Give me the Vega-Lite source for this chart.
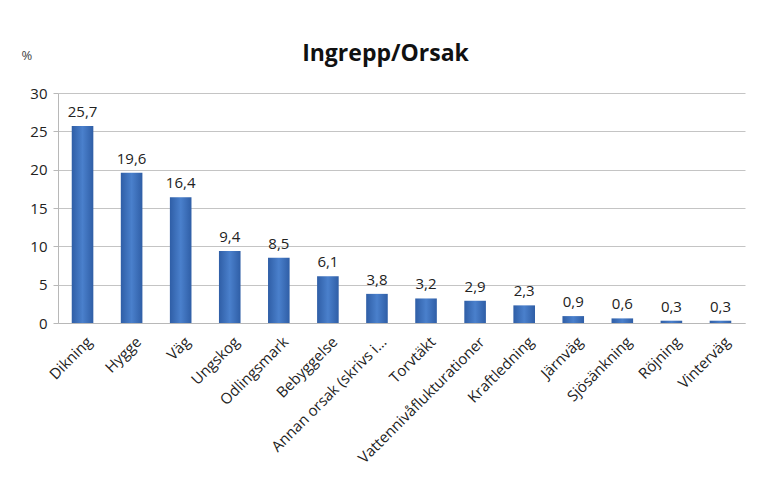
{
  "$schema": "https://vega.github.io/schema/vega-lite/v6.json",
  "width": 687,
  "height": 230,
  "autosize": {"type": "none"},
  "padding": {"left": 58, "top": 93, "right": 13, "bottom": 180},
  "background": "white",
  "title": {
    "text": "Ingrepp/Orsak",
    "fontSize": 23,
    "fontWeight": "bold",
    "font": "Open Sans",
    "color": "#111111",
    "anchor": "middle",
    "dx": -16,
    "offset": -17
  },
  "config": {
    "locale": {"number": {"decimal": ",", "thousands": " ", "grouping": [3], "currency": ["", " kr"]}},
    "view": {"stroke": null},
    "font": "Open Sans"
  },
  "data": {
    "values": [
      {"orsak": "Dikning", "procent": 25.7},
      {"orsak": "Hygge", "procent": 19.6},
      {"orsak": "Väg", "procent": 16.4},
      {"orsak": "Ungskog", "procent": 9.4},
      {"orsak": "Odlingsmark", "procent": 8.5},
      {"orsak": "Bebyggelse", "procent": 6.1},
      {"orsak": "Annan orsak (skrivs i…", "procent": 3.8},
      {"orsak": "Torvtäkt", "procent": 3.2},
      {"orsak": "Vattennivåflukturationer", "procent": 2.9},
      {"orsak": "Kraftledning", "procent": 2.3},
      {"orsak": "Järnväg", "procent": 0.9},
      {"orsak": "Sjösänkning", "procent": 0.6},
      {"orsak": "Röjning", "procent": 0.3},
      {"orsak": "Vinterväg", "procent": 0.3}
    ]
  },
  "encoding": {
    "x": {
      "field": "orsak",
      "type": "nominal",
      "sort": null,
      "scale": {"paddingInner": 0.56, "paddingOuter": 0.28},
      "axis": {
        "title": null,
        "labelAngle": -45,
        "labelAlign": "right",
        "labelBaseline": "middle",
        "labelFontSize": 15,
        "labelColor": "#222222",
        "labelPadding": 16,
        "labelOffset": 7,
        "labelLimit": 250,
        "ticks": false,
        "domainColor": "#b8b8b8",
        "grid": false
      }
    },
    "y": {
      "field": "procent",
      "type": "quantitative",
      "scale": {"domain": [0, 30], "nice": false},
      "axis": {
        "title": "%",
        "titleAngle": 0,
        "titleAlign": "left",
        "titleBaseline": "middle",
        "titleX": -37,
        "titleY": -38,
        "titleFontSize": 13,
        "titleFontWeight": "normal",
        "titleColor": "#444444",
        "values": [0, 5, 10, 15, 20, 25, 30],
        "labelFontSize": 15,
        "labelColor": "#222222",
        "labelPadding": 6,
        "tickSize": 5,
        "tickColor": "#b8b8b8",
        "domainColor": "#b8b8b8",
        "gridColor": "#c4c4c4",
        "format": "d"
      }
    }
  },
  "layer": [
    {
      "mark": {
        "type": "bar",
        "fill": {
          "gradient": "linear",
          "x1": 0, "x2": 1, "y1": 0, "y2": 0,
          "stops": [
            {"offset": 0, "color": "#2f5ea6"},
            {"offset": 0.5, "color": "#4a80cc"},
            {"offset": 1, "color": "#2f5ea6"}
          ]
        }
      }
    },
    {
      "mark": {"type": "text", "baseline": "bottom", "dy": -6, "fontSize": 15, "color": "#222222"},
      "encoding": {"text": {"field": "procent", "type": "quantitative", "format": ".1f"}}
    }
  ]
}
